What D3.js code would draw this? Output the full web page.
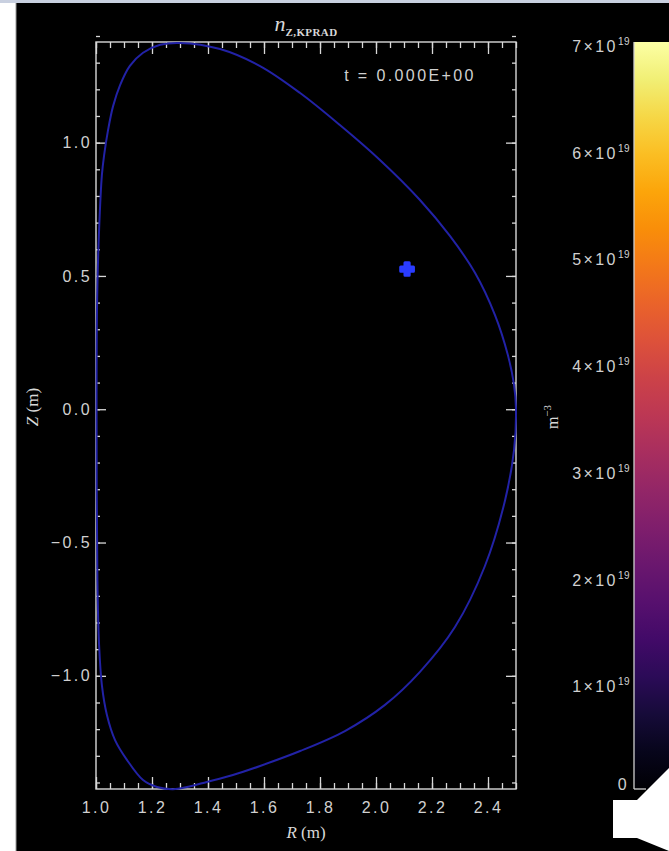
<!DOCTYPE html>
<html>
<head>
<meta charset="utf-8">
<script src="https://cdn.jsdelivr.net/npm/d3@7"></script>
<style>
  html, body { margin: 0; padding: 0; background: #000; }
  svg { display: block; }
  .tick text { font-family: "Liberation Sans", "DejaVu Sans", sans-serif; font-size: 16px; fill: #d0d0d0; letter-spacing: 2.4px; }
  .lbl { font-family: "Liberation Sans", "DejaVu Sans", sans-serif; font-size: 16px; fill: #d0d0d0; letter-spacing: 2.4px; }
</style>
</head>
<body>
<svg id="chart" width="669" height="851"></svg>
<script>
// Plasma boundary (last closed flux surface), metres, clockwise from the top
const boundaryR = [1.300, 1.443, 1.586, 1.729, 1.871, 2.014, 2.157, 2.264, 2.354, 2.425, 2.471, 2.493, 2.500,
                   2.493, 2.461, 2.389, 2.282, 2.157, 2.032, 1.889, 1.729, 1.586, 1.489, 1.396, 1.325, 1.275,
                   1.218, 1.168, 1.111, 1.068, 1.039, 1.021, 1.011, 1.005, 1.002,
                   1.004, 1.011, 1.021, 1.029, 1.043, 1.061, 1.086, 1.121, 1.168, 1.229];
const boundaryZ = [1.374, 1.351, 1.287, 1.186, 1.066, 0.935, 0.785, 0.650, 0.511, 0.353, 0.203, 0.091, 0.000,
                   -0.153, -0.341, -0.588, -0.817, -0.985, -1.109, -1.207, -1.282, -1.338, -1.372, -1.398, -1.417, -1.425,
                   -1.417, -1.391, -1.316, -1.241, -1.147, -1.035, -0.884, -0.641, 0.000,
                   0.410, 0.672, 0.878, 0.953, 1.047, 1.137, 1.216, 1.288, 1.337, 1.367];

// Injection location marker
const markerR = [2.111];
const markerZ = [0.526];

// Axis ticks
const rMajor = [1.0, 1.2, 1.4, 1.6, 1.8, 2.0, 2.2, 2.4];
const zMajor = [-1.0, -0.5, 0.0, 0.5, 1.0];
const cbarTicks = [0, 1, 2, 3, 4, 5, 6, 7];   // ×10^19 m^-3
const cbarMax = 7;
const timeLabel = "t = 0.000E+00";

const svg = d3.select("#chart");
const W = 669, H = 851;
const frame = { left: 96, right: 516, top: 42, bottom: 789 };

// page background: white margin on the left, thin strip on top
svg.append("rect").attr("width", W).attr("height", H).attr("fill", "#000");
svg.append("rect").attr("x", 0).attr("y", 0).attr("width", 16).attr("height", H).attr("fill", "#fff");
svg.append("line").attr("x1", 16).attr("x2", 16).attr("y1", 0).attr("y2", H).attr("stroke", "#9a9a9a").attr("stroke-width", 1);
svg.append("rect").attr("x", 0).attr("y", 0).attr("width", W).attr("height", 3).attr("fill", "#c9d0e0");

const x = d3.scaleLinear().domain([1.0, 2.5]).range([frame.left, frame.right]);
const y = d3.scaleLinear().domain([-1.4245, 1.3775]).range([frame.bottom, frame.top]);

const rMinor = d3.range(1.0, 2.5001, 0.05).map(v => +v.toFixed(2));
const zMinor = d3.range(-1.4, 1.4001, 0.1).map(v => +v.toFixed(1));

function styleAxis(g) {
  g.select(".domain").remove();
  g.selectAll(".tick line").attr("stroke", "#d8d8d8").attr("stroke-width", 1.3);
}

// bottom axis
svg.append("g").attr("transform", `translate(0,${frame.bottom})`)
  .call(d3.axisBottom(x).tickValues(rMinor).tickSize(-6).tickFormat(""))
  .call(styleAxis);
svg.append("g").attr("transform", `translate(0,${frame.bottom})`)
  .call(d3.axisBottom(x).tickValues(rMajor).tickSize(-12).tickPadding(13).tickFormat(d3.format(".1f")))
  .call(styleAxis);
// top axis
svg.append("g").attr("transform", `translate(0,${frame.top})`)
  .call(d3.axisTop(x).tickValues(rMinor).tickSize(-6).tickFormat(""))
  .call(styleAxis);
svg.append("g").attr("transform", `translate(0,${frame.top})`)
  .call(d3.axisTop(x).tickValues(rMajor).tickSize(-12).tickFormat(""))
  .call(styleAxis);
// left axis
svg.append("g").attr("transform", `translate(${frame.left},0)`)
  .call(d3.axisLeft(y).tickValues(zMinor).tickSize(-4).tickFormat(""))
  .call(styleAxis);
svg.append("g").attr("transform", `translate(${frame.left},0)`)
  .call(d3.axisLeft(y).tickValues(zMajor).tickSize(-10).tickPadding(4).tickFormat(d3.format(".1f")))
  .call(styleAxis);
// right axis
svg.append("g").attr("transform", `translate(${frame.right},0)`)
  .call(d3.axisRight(y).tickValues(zMinor).tickSize(-4).tickFormat(""))
  .call(styleAxis);
svg.append("g").attr("transform", `translate(${frame.right},0)`)
  .call(d3.axisRight(y).tickValues(zMajor).tickSize(-10).tickFormat(""))
  .call(styleAxis);

// plot frame
svg.append("rect")
  .attr("x", frame.left).attr("y", frame.top)
  .attr("width", frame.right - frame.left).attr("height", frame.bottom - frame.top)
  .attr("fill", "none").attr("stroke", "#d8d8d8").attr("stroke-width", 1.4);

// boundary contour
const pts = boundaryR.map((r, i) => [r, boundaryZ[i]]);
svg.append("path")
  .datum(pts)
  .attr("d", d3.line().x(d => x(d[0])).y(d => y(d[1])).curve(d3.curveCatmullRomClosed.alpha(0.5)))
  .attr("fill", "none").attr("stroke", "#2222a6").attr("stroke-width", 2);

// injection marker
svg.selectAll(".marker").data(markerR).join("path")
  .attr("class", "marker")
  .attr("transform", (d, i) => `translate(${x(d)},${y(markerZ[i])})`)
  .attr("d", d3.symbol(d3.symbolCross, 90)())
  .attr("fill", "#2a3cff").attr("stroke", "#2a3cff")
  .attr("stroke-width", 3).attr("stroke-linejoin", "round");

// time stamp
svg.append("text").attr("class", "lbl").attr("x", 410).attr("y", 81).attr("text-anchor", "middle")
  .text(timeLabel);

// title
const title = svg.append("text").attr("x", 306).attr("y", 31).attr("text-anchor", "middle")
  .attr("font-family", "Liberation Serif, DejaVu Serif, serif").attr("fill", "#d8d8d8");
title.append("tspan").attr("font-style", "italic").attr("font-size", 22).text("n");
title.append("tspan").attr("font-weight", "bold").attr("font-size", 11).attr("dy", 5)
  .attr("letter-spacing", 0.4).text("Z,KPRAD");

// axis titles
const xt = svg.append("text").attr("x", 306).attr("y", 838).attr("text-anchor", "middle")
  .attr("font-family", "Liberation Serif, DejaVu Serif, serif").attr("font-size", 17).attr("fill", "#d8d8d8");
xt.append("tspan").attr("font-style", "italic").text("R");
xt.append("tspan").text(" (m)");
const yt = svg.append("text").attr("transform", "translate(38,407) rotate(-90)").attr("text-anchor", "middle")
  .attr("font-family", "Liberation Serif, DejaVu Serif, serif").attr("font-size", 17).attr("fill", "#d8d8d8");
yt.append("tspan").attr("font-style", "italic").text("Z");
yt.append("tspan").text(" (m)");

// colour bar
const cb = { x: 634, width: 40, top: frame.top, bottom: frame.bottom };
const cy = d3.scaleLinear().domain([0, cbarMax]).range([cb.bottom, cb.top]);
const grad = svg.append("defs").append("linearGradient").attr("id", "cbgrad")
  .attr("x1", 0).attr("y1", 1).attr("x2", 0).attr("y2", 0);
d3.range(0, 1.0001, 0.05).forEach(t => {
  grad.append("stop").attr("offset", t).attr("stop-color", d3.interpolateInferno(t));
});
svg.append("rect").attr("x", cb.x).attr("y", cb.top).attr("width", cb.width)
  .attr("height", cb.bottom - cb.top).attr("fill", "url(#cbgrad)");
svg.append("line").attr("x1", cb.x).attr("x2", cb.x).attr("y1", cb.top).attr("y2", cb.bottom)
  .attr("stroke", "#cfcfcf").attr("stroke-width", 1.3);
svg.append("line").attr("x1", cb.x).attr("x2", cb.x + 12).attr("y1", cb.bottom).attr("y2", cb.bottom)
  .attr("stroke", "#cfcfcf").attr("stroke-width", 1.3);

const cbl = svg.append("g").selectAll("text").data(cbarTicks).join("text")
  .attr("class", "lbl")
  .attr("x", d => d === 0 ? 629 : 630)
  .attr("y", d => cy(d) + (d === 0 ? 1 : 10))
  .attr("text-anchor", "end");
cbl.each(function(d) {
  const t = d3.select(this);
  if (d === 0) { t.text("0"); return; }
  t.append("tspan").text(d + "×10");
  t.append("tspan").attr("font-size", 10).attr("letter-spacing", 0.5).attr("dy", -7).text("19");
});

// colour bar unit
const unit = svg.append("text").attr("transform", "translate(558,417) rotate(-90)").attr("text-anchor", "middle")
  .attr("font-family", "Liberation Serif, DejaVu Serif, serif").attr("font-size", 16).attr("fill", "#d8d8d8");
unit.append("tspan").text("m");
unit.append("tspan").attr("font-size", 11).attr("dy", -7).text("−3");

// overlay icon in the bottom-right corner
svg.append("path")
  .attr("d", "M613,800 L637,800 L669,768 L669,851 L637,838 L613,838 Z")
  .attr("fill", "#ffffff");
</script>
</body>
</html>
